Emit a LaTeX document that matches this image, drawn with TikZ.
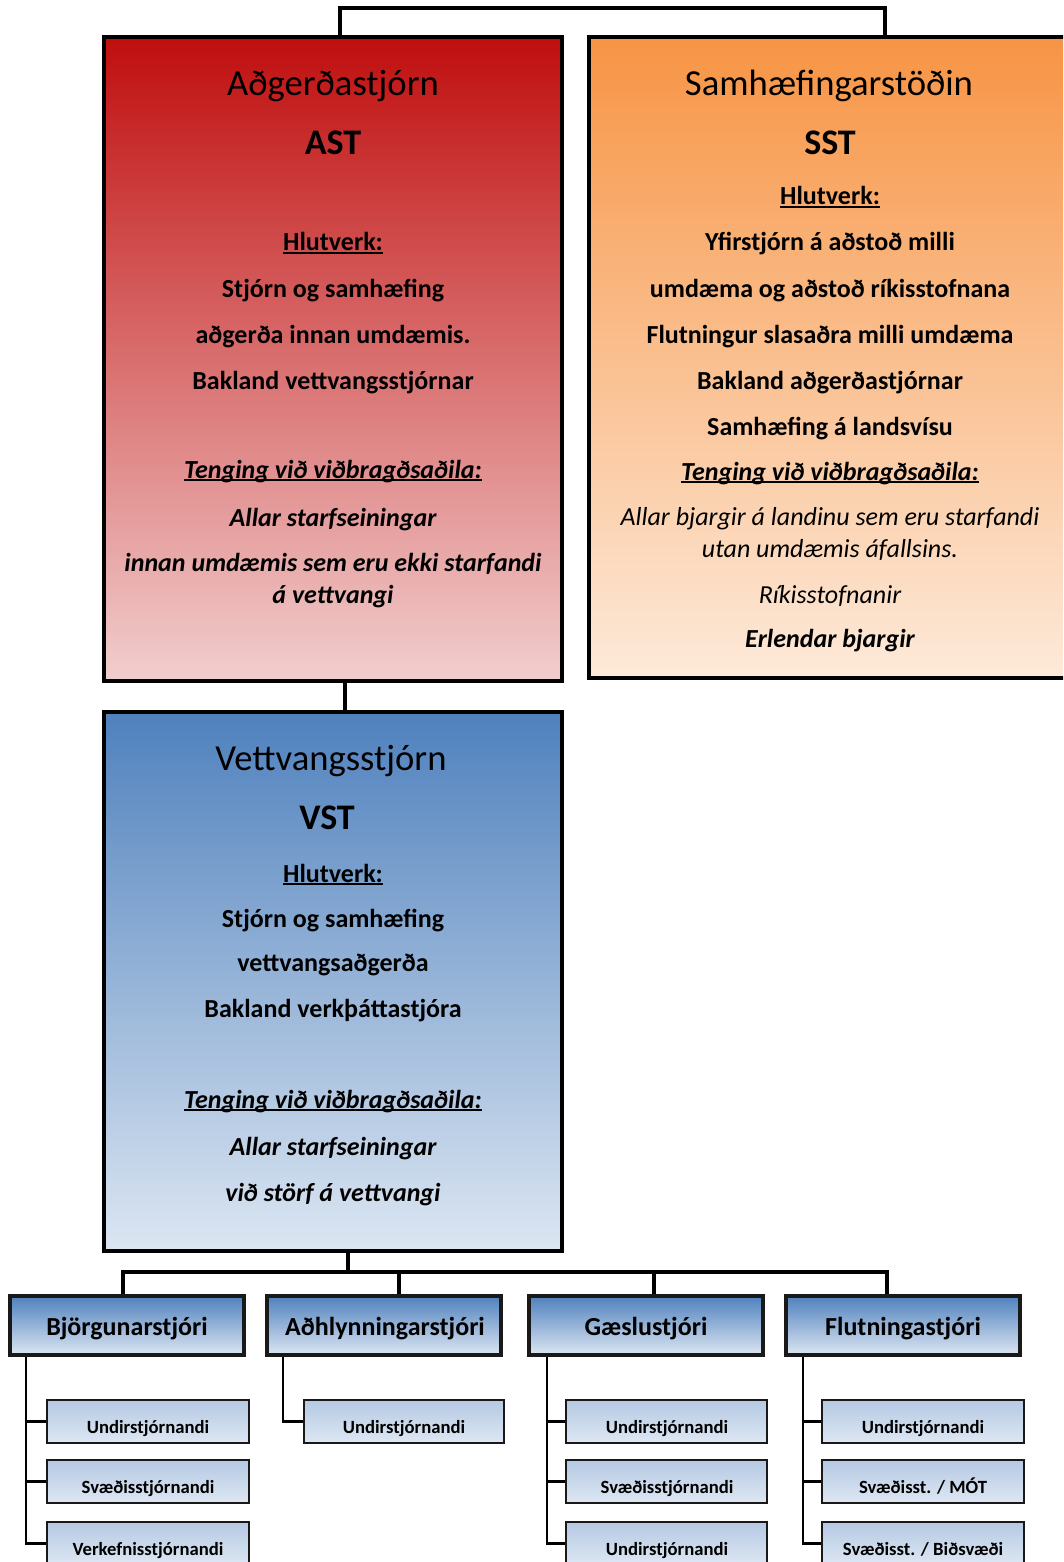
\documentclass[tikz,border=0pt]{standalone}
\usepackage{fontspec}
\setmainfont{Carlito}
\usetikzlibrary{fit,calc}
\definecolor{astT}{RGB}{192,14,14}
\definecolor{astB}{RGB}{242,206,206}
\definecolor{sstT}{RGB}{247,148,68}
\definecolor{sstB}{RGB}{253,234,218}
\definecolor{vstT}{RGB}{79,129,189}
\definecolor{vstB}{RGB}{220,230,242}
\definecolor{lvlT}{RGB}{79,129,189}
\definecolor{lvlB}{RGB}{220,230,242}
\definecolor{subT}{RGB}{180,201,227}
\definecolor{subB}{RGB}{222,231,243}
\newcommand\fTitle{\fontsize{27.5}{33}\selectfont}
\newcommand\fAbbr{\fontsize{27}{32}\selectfont\bfseries}
\newcommand\fBody{\fontsize{19.5}{23}\selectfont}
\newcommand\fSubx{\fontsize{14}{17}\selectfont\bfseries}
\newsavebox\ulbx
\newcommand\ulx[1]{\sbox\ulbx{#1}\rlap{\rule[-0.13em]{\wd\ulbx}{0.075em}}\usebox\ulbx}
\begin{document}
\begin{tikzpicture}[x=0.75pt,y=-0.75pt,
  bigbox/.style={draw=black, line width=3pt, inner sep=0pt},
  lvlbox/.style={draw=black!90, line width=2.3pt, inner sep=0pt, top color=lvlT, bottom color=lvlB},
  subbox/.style={draw=black!90, line width=2.1pt, inner sep=0pt, top color=subT, bottom color=subB},
  conn/.style={line width=2.4pt, black},
  subconn/.style={line width=2pt, black},
  tl/.style={anchor=base, inner sep=0pt, font=\fTitle},
  ta/.style={anchor=base, inner sep=0pt, font=\fAbbr},
  tb/.style={anchor=base, inner sep=0pt, font=\fBody\bfseries},
  tbi/.style={anchor=base, inner sep=0pt, font=\fBody\bfseries\itshape},
  tri/.style={anchor=base, inner sep=0pt, font=\fBody\itshape},
  ts/.style={anchor=base, inner sep=0pt, font=\fSubx}]
\useasboundingbox (0,0) rectangle (1063,1562);
\clip (0,0) rectangle (1063,1562);
\fill[white] (0,0) rectangle (1063,1562);

% big boxes
\node[bigbox, top color=astT, bottom color=astB, fit={(104,37) (562,681)}] (ast) {};
\node[bigbox, top color=sstT, bottom color=sstB, fit={(589,37) (1071,678)}] (sst) {};
\node[bigbox, top color=vstT, bottom color=vstB, fit={(104,712) (562,1251)}] (vst) {};

% level boxes
\node[lvlbox, fit={(10,1296) (244,1355)}] (b1) {};
\node[lvlbox, fit={(267,1296) (501,1355)}] (b2) {};
\node[lvlbox, fit={(529,1296) (763,1355)}] (b3) {};
\node[lvlbox, fit={(786,1296) (1020,1355)}] (b4) {};

% sub boxes
\node[subbox, fit={(47,1400) (249,1443)}] (s11) {};
\node[subbox, fit={(47,1460) (249,1503)}] (s12) {};
\node[subbox, fit={(47,1522) (249,1565)}] (s13) {};
\node[subbox, fit={(304,1400) (504,1443)}] (s21) {};
\node[subbox, fit={(566,1400) (767,1443)}] (s31) {};
\node[subbox, fit={(566,1460) (767,1503)}] (s32) {};
\node[subbox, fit={(566,1522) (767,1565)}] (s33) {};
\node[subbox, fit={(822,1400) (1024,1443)}] (s41) {};
\node[subbox, fit={(822,1460) (1024,1503)}] (s42) {};
\node[subbox, fit={(822,1522) (1024,1565)}] (s43) {};

% connectors
\coordinate (ctl) at (340,8);
\coordinate (ctr) at (885,8);
\draw[conn] (ctl |- ast.north) -- (ctl) -- (ctr) -- (ctr |- sst.north);
\coordinate (cav) at (345,0);
\draw[conn] (cav |- ast.south) -- (cav |- vst.north);
\coordinate (bus) at (348,1272);
\coordinate (d1) at (123,1272);
\coordinate (d2) at (399,1272);
\coordinate (d3) at (654,1272);
\coordinate (d4) at (887,1272);
\draw[conn] (vst.south -| bus) -- (bus);
\draw[conn] (d1 |- b1.north) -- (d1) -- (d4) -- (d4 |- b4.north);
\draw[conn] (d2) -- (d2 |- b2.north);
\draw[conn] (d3) -- (d3 |- b3.north);

\coordinate (v1) at (26,0);
\coordinate (v2) at (283,0);
\coordinate (v3) at (547,0);
\coordinate (v4) at (803,0);
\draw[subconn] (v1 |- b1.south) |- (s13.west);
\draw[subconn] (v1 |- s11.west) -- (s11.west);
\draw[subconn] (v1 |- s12.west) -- (s12.west);
\draw[subconn] (v2 |- b2.south) |- (s21.west);
\draw[subconn] (v3 |- b3.south) |- (s33.west);
\draw[subconn] (v3 |- s31.west) -- (s31.west);
\draw[subconn] (v3 |- s32.west) -- (s32.west);
\draw[subconn] (v4 |- b4.south) |- (s43.west);
\draw[subconn] (v4 |- s41.west) -- (s41.west);
\draw[subconn] (v4 |- s42.west) -- (s42.west);

% AST text
\node[tl] (a1) at (333,96) {Aðgerðastjórn};
\node[ta] (a2) at (333,155) {AST};
\node[tb] (a3) at (333,251) {\ulx{Hlutverk:}};
\node[tb] (a4) at (333,297) {Stjórn og samhæfing};
\node[tb] (a5) at (333,343) {aðgerða innan umdæmis.};
\node[tb] (a6) at (333,389) {Bakland vettvangsstjórnar};
\node[tbi] (a7) at (333,478) {\ulx{Tenging við viðbragðsaðila:}};
\node[tbi] (a8) at (333,526) {Allar starfseiningar};
\node[tbi] (a9) at (333,571) {innan umdæmis sem eru ekki starfandi};
\node[tbi] (a10) at (333,603) {á vettvangi};

% SST text
\node[tl] (c1) at (829,96) {Samhæfingarstöðin};
\node[ta] (c2) at (830,155) {SST};
\node[tb] (c3) at (830,205) {\ulx{Hlutverk:}};
\node[tb] (c4) at (830,251) {Yfirstjórn á aðstoð milli};
\node[tb] (c5) at (830,297) {umdæma og aðstoð ríkisstofnana};
\node[tb] (c6) at (830,343) {Flutningur slasaðra milli umdæma};
\node[tb] (c7) at (830,389) {Bakland aðgerðastjórnar};
\node[tb] (c8) at (830,435) {Samhæfing á landsvísu};
\node[tbi] (c9) at (830,480) {\ulx{Tenging við viðbragðsaðila:}};
\node[tri] (c10) at (830,525) {Allar bjargir á landinu sem eru starfandi};
\node[tri] (c11) at (830,557) {utan umdæmis áfallsins.};
\node[tri] (c12) at (830,603) {Ríkisstofnanir};
\node[tbi] (c13) at (830,647) {Erlendar bjargir};

% VST text
\node[tl] (e1) at (331,770) {Vettvangsstjórn};
\node[ta] (e2) at (327,829) {VST};
\node[tb] (e3) at (333,882) {\ulx{Hlutverk:}};
\node[tb] (e4) at (333,927) {Stjórn og samhæfing};
\node[tb] (e5) at (333,971) {vettvangsaðgerða};
\node[tb] (e6) at (333,1017) {Bakland verkþáttastjóra};
\node[tbi] (e7) at (333,1108) {\ulx{Tenging við viðbragðsaðila:}};
\node[tbi] (e8) at (333,1155) {Allar starfseiningar};
\node[tbi] (e9) at (333,1201) {við störf á vettvangi};

% level texts
\node[tb] (tb1) at (127,1335) {Björgunarstjóri};
\node[tb] (tb2) at (385,1335) {Aðhlynningarstjóri};
\node[tb] (tb3) at (646,1335) {Gæslustjóri};
\node[tb] (tb4) at (903,1335) {Flutningastjóri};

% sub texts
\node[ts] (ts11) at (148,1433) {Undirstjórnandi};
\node[ts] (ts12) at (148,1493) {Svæðisstjórnandi};
\node[ts] (ts13) at (148,1555) {Verkefnisstjórnandi};
\node[ts] (ts21) at (404,1433) {Undirstjórnandi};
\node[ts] (ts31) at (667,1433) {Undirstjórnandi};
\node[ts] (ts32) at (667,1493) {Svæðisstjórnandi};
\node[ts] (ts33) at (667,1555) {Undirstjórnandi};
\node[ts] (ts41) at (923,1433) {Undirstjórnandi};
\node[ts] (ts42) at (923,1493) {Svæðisst. / MÓT};
\node[ts] (ts43) at (923,1555) {Svæðisst. / Biðsvæði};
\end{tikzpicture}
\end{document}
